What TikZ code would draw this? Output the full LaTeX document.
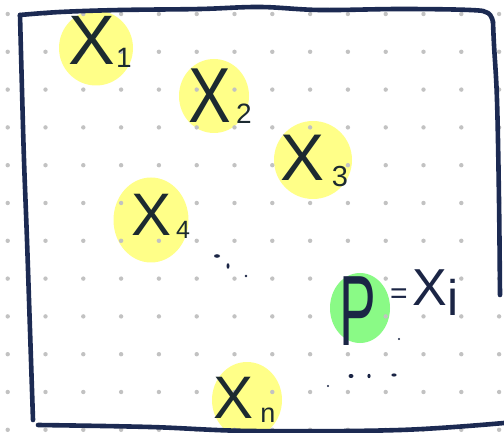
\documentclass[tikz,border=0pt]{standalone}
\usepackage{fontspec}
\setmainfont{Liberation Sans}
\usetikzlibrary{shapes.geometric}
\definecolor{ink}{HTML}{1B2545}
\definecolor{inkx}{HTML}{1C2A30}
\definecolor{framec}{HTML}{1C2A52}
\definecolor{hly}{HTML}{FFFF88}
\definecolor{hlg}{HTML}{8AFA86}
\definecolor{dotc}{HTML}{C2C2C2}
\begin{document}
\begin{tikzpicture}[x=1pt,y=-1pt,
  blob/.style={ellipse,fill=hly,inner sep=0pt},
  gblob/.style={ellipse,fill=hlg,inner sep=0pt},
  lbl/.style={inner sep=0pt,text=inkx},
  plbl/.style={inner sep=0pt,text=ink},
  frameline/.style={draw=framec,line width=4.6pt,line cap=round,line join=round},
  inkdot/.style={fill=ink}]
\useasboundingbox (0,0) rectangle (504,433);
\fill[white] (0,0) rectangle (504,433);
% highlighter blobs
\node[blob,minimum width=74pt,minimum height=75pt] (b1) at (96,48) {};
\node[blob,minimum width=70pt,minimum height=74pt] (b2) at (214,96) {};
\node[blob,minimum width=78pt,minimum height=78pt] (b3) at (313,160) {};
\node[blob,minimum width=75pt,minimum height=85pt] (b4) at (151,220) {};
\node[blob,minimum width=70pt,minimum height=76pt] (bn) at (247,400) {};
\node[gblob,minimum width=60pt,minimum height=70pt] (bp) at (360,308) {};
% dot grid
\foreach \i in {0,...,13}{
  \foreach \j in {0,...,11}{
    \fill[dotc] (7.7+37.8*\i,14+37.8*\j) circle (2.2pt);
  }
}
% frame
\draw[frameline] plot[smooth,tension=0.6] coordinates {(33,420) (30,330) (27,240) (24,160) (22,90) (20,15)};
\draw[frameline] plot[smooth,tension=0.6] coordinates {(20,15) (60,12) (120,10) (200,9) (260,7) (320,10) (400,9) (470,10) (488,13) (493,22)};
\draw[frameline] plot[smooth,tension=0.6] coordinates {(493,22) (494,45) (497,100) (499,200) (500,295)};
\draw[frameline] plot[smooth,tension=0.6] coordinates {(38,425) (150,427) (252,431) (400,430) (504,423)};
% labels
\node[lbl,font=\fontsize{70}{70}\selectfont] (x1) at (92,40) {X};
\node[lbl,font=\fontsize{28}{28}\selectfont] (s1) at (124,58) {1};
\node[lbl,font=\fontsize{78}{78}\selectfont] (x2) at (210,96) {\scalebox{0.82}[1]{X}};
\node[lbl,font=\fontsize{28}{28}\selectfont] (s2) at (244,114) {2};
\node[lbl,font=\fontsize{66}{66}\selectfont] (x3) at (303,158) {X};
\node[lbl,font=\fontsize{29}{29}\selectfont] (s3) at (340,177) {3};
\node[lbl,font=\fontsize{60}{60}\selectfont] (x4) at (152,215) {X};
\node[lbl,font=\fontsize{25}{25}\selectfont] (s4) at (183,230) {4};
\node[lbl,font=\fontsize{60}{60}\selectfont] (xn) at (234,398) {X};
\node[lbl,font=\fontsize{27}{27}\selectfont] (sn) at (268,415) {n};
\node[plbl,font=\fontsize{100}{100}\selectfont] (p) at (358,311) {\scalebox{0.55}[1]{P}};
\node[plbl,font=\fontsize{30}{30}\selectfont] (eq) at (399,296) {=};
\node[plbl,font=\fontsize{52}{52}\selectfont] (xi) at (430,288) {X};
\node[plbl,font=\fontsize{50}{50}\selectfont] (si) at (453,297) {i};
% ellipsis dots
\fill[inkdot] (217,256) ellipse (3pt and 1.8pt);
\fill[inkdot] (228,266) ellipse (1.5pt and 2.8pt);
\fill[inkdot] (246,276) circle (1.3pt);
\fill[inkdot] (328,386) circle (1.2pt);
\fill[inkdot] (351,376) ellipse (2.5pt and 2pt);
\fill[inkdot] (369,376) ellipse (1.6pt and 2.2pt);
\fill[inkdot] (394,375) ellipse (2.6pt and 1.6pt);
\fill[inkdot] (399,339) circle (1.1pt);
\end{tikzpicture}
\end{document}
